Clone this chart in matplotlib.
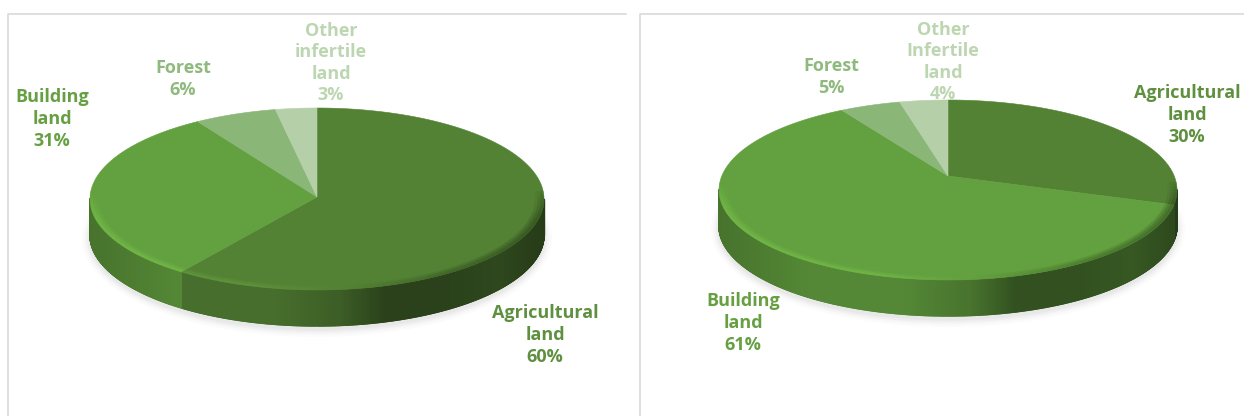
import numpy as np
import matplotlib
matplotlib.use('Agg')
import matplotlib.pyplot as plt
from matplotlib.patches import Ellipse, Polygon
from matplotlib.colors import to_rgb
from matplotlib.collections import PolyCollection

# chart data, clockwise from 12 o'clock
names_left = ['Agricultural\nland', 'Building\nland', 'Forest', 'Other\ninfertile\nland']
values_left = [60, 31, 6, 3]
names_right = ['Agricultural\nland', 'Building\nland', 'Forest', 'Other\nInfertile\nland']
values_right = [30, 61, 5, 4]

colors = ['#548235', '#63A03F', '#8AB678', '#B5D0A8']
text_colors = ['#5F9040', '#66A043', '#8FBA7E', '#BDD6B2']

# wall shading across the pie, left edge to right edge
shade_u = [-1, -0.6, -0.2, 0.1, 0.3, 0.55, 0.8, 1]
shade_f = [0.72, 0.85, 0.85, 0.72, 0.5, 0.5, 0.55, 0.45]

plt.rcParams['font.family'] = ['Open Sans', 'DejaVu Sans']

fig = plt.figure(figsize=(12.44, 4.16), dpi=100)
ax = fig.add_axes([0, 0, 1, 1])
ax.set_xlim(0, 1244)
ax.set_ylim(416, 0)
ax.axis('off')


def rim_point(a, cx, cy, rx, ry, ax0, ay0):
    # ray from the slice apex, hit on the ellipse
    dx = np.sin(a)
    dy = -np.cos(a)
    px = (ax0 - cx) / rx
    py = (ay0 - cy) / ry
    b = px * dx + py * dy
    c = px * px + py * py - 1
    t = -b + np.sqrt(b * b - c)
    return cx + (px + t * dx) * rx, cy + (py + t * dy) * ry


def mix(col, f):
    c = np.array(to_rgb(col))
    if f <= 1:
        return tuple(c * f)
    return tuple(np.clip(c * f, 0, 1))


def draw_pie(values, cx, cy, rx, ry, apex_y, depth):
    # soft shadow
    for grow, alpha in zip([16, 11, 7, 3], [0.03, 0.04, 0.05, 0.06]):
        ax.add_patch(Ellipse((cx, cy + depth + 3), 2 * rx + grow, 2 * ry + grow,
                             fc='#808080', ec='none', alpha=alpha, zorder=1))

    edges = np.cumsum([0] + list(values)) / sum(values) * 2 * np.pi
    for i in range(len(values)):
        a = np.linspace(edges[i], edges[i + 1], int(values[i] * 15) + 4)
        px, py = rim_point(a, cx, cy, rx, ry, cx, apex_y)

        # side wall as thin strips
        walls, wall_cols = [], []
        for j in range(len(a) - 1):
            if py[j] < cy and py[j + 1] < cy:
                continue
            walls.append([(px[j], py[j]), (px[j + 1], py[j + 1]),
                          (px[j + 1], py[j + 1] + depth), (px[j], py[j] + depth)])
            u = (px[j] + px[j + 1]) / 2
            wall_cols.append(mix(colors[i], np.interp((u - cx) / rx, shade_u, shade_f)))
        if walls:
            ax.add_collection(PolyCollection(walls, facecolors=wall_cols,
                                             edgecolors=wall_cols, linewidths=1.0, zorder=2))

        # top face
        pts = [(cx, apex_y)] + list(zip(px, py))
        ax.add_patch(Polygon(pts, closed=True, fc=colors[i], ec=colors[i], lw=0.4, zorder=3))

        # bevel along the front rim
        for inset, alpha in zip([0.04, 0.027, 0.014], [0.35, 0.55, 0.85]):
            ix = cx + (px - cx) * (1 - inset)
            iy = cy + (py - cy) * (1 - inset * 1.2)
            quads, cols = [], []
            for j in range(len(a) - 1):
                u = (px[j] - cx) / rx
                v = (py[j] - cy) / ry
                if v < -0.1:
                    continue
                f = np.interp(u, [-1, -0.3, 0.2, 0.6, 1], [1.16, 1.14, 0.97, 0.78, 0.66])
                quads.append([(px[j], py[j]), (px[j + 1], py[j + 1]),
                              (ix[j + 1], iy[j + 1]), (ix[j], iy[j])])
                cols.append(mix(colors[i], f) + (alpha * min(1, (v + 0.1) * 3),))
            if quads:
                ax.add_collection(PolyCollection(quads, facecolors=cols,
                                                 edgecolors='none', zorder=4))


def draw_labels(names, values, places):
    for i in range(len(names)):
        ax.text(places[i][0], places[i][1], names[i] + '\n' + str(values[i]) + '%',
                ha='center', va='center', fontsize=13, fontweight='bold',
                color=text_colors[i], linespacing=1.25, zorder=6)


# panel frames
ax.plot([8, 8, 626], [416, 14, 14], color='#D9D9D9', lw=1.2, zorder=0)
ax.plot([640, 640, 1244], [416, 14, 14], color='#D9D9D9', lw=1.2, zorder=0)

draw_pie(values_left, 317, 199, 227, 91, 197, 36)
draw_pie(values_right, 948, 190, 229, 90, 176, 36)

draw_labels(names_left, values_left, [(545, 335), (52, 119), (183, 79), (331, 63)])
draw_labels(names_right, values_right, [(1187, 115), (743, 323), (831, 77), (943, 62)])

fig.savefig('out.png', dpi=100, facecolor='white')
